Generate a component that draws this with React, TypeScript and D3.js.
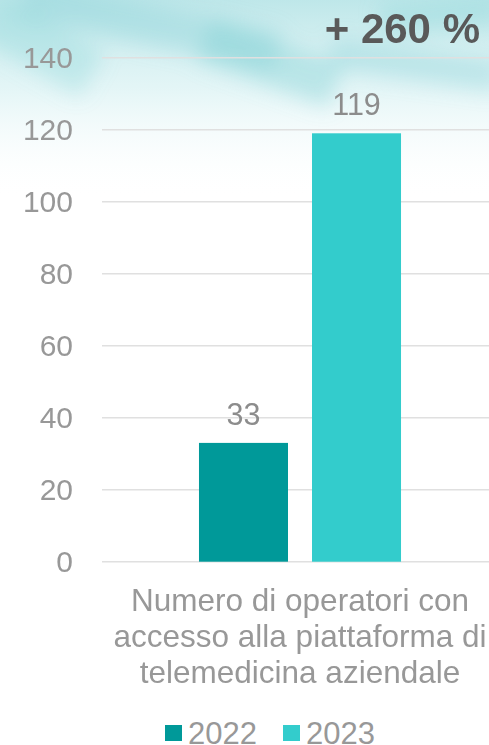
import React, { useEffect, useRef } from "react";
import * as d3 from "d3";

const categories = ["Numero di operatori con accesso alla piattaforma di telemedicina aziendale"];
const categoryLines = ["Numero di operatori con", "accesso alla piattaforma di", "telemedicina aziendale"];
const years = ["2022", "2023"];
const values2022 = [33];
const values2023 = [119];
const yTicks = [0, 20, 40, 60, 80, 100, 120, 140];
const growthLabel = "+ 260 %";
const colors = ["#009999", "#33CCCC"];

export default function App() {
  const ref = useRef<SVGSVGElement>(null);

  useEffect(() => {
    const width = 489;
    const height = 745;
    const svg = d3.select(ref.current);
    svg.selectAll("*").remove();
    svg.attr("width", width).attr("height", height);

    const font = "'Liberation Sans', Arial, sans-serif";
    const textGray = "#989898";

    // background wash on top
    const defs = svg.append("defs");
    const grad = defs
      .append("linearGradient")
      .attr("id", "wash")
      .attr("x1", 0)
      .attr("y1", 0)
      .attr("x2", 0)
      .attr("y2", 1);
    grad.append("stop").attr("offset", "0%").attr("stop-color", "#a9dfe2").attr("stop-opacity", 0.75);
    grad.append("stop").attr("offset", "45%").attr("stop-color", "#c9ecee").attr("stop-opacity", 0.5);
    grad.append("stop").attr("offset", "100%").attr("stop-color", "#ffffff").attr("stop-opacity", 0);
    const blur = defs.append("filter").attr("id", "blur").attr("x", "-50%").attr("y", "-50%").attr("width", "200%").attr("height", "200%");
    blur.append("feGaussianBlur").attr("stdDeviation", 10);

    svg.append("rect").attr("width", width).attr("height", height).attr("fill", "#ffffff");
    svg.append("rect").attr("width", width).attr("height", 200).attr("fill", "url(#wash)");
    const strokes = [
      { x: 20, y: 5, w: 260, h: 40, r: 12, o: 0.35 },
      { x: 200, y: 40, w: 140, h: 45, r: 20, o: 0.4 },
      { x: 330, y: 50, w: 170, h: 30, r: 8, o: 0.35 },
      { x: -20, y: 20, w: 120, h: 50, r: 30, o: 0.3 },
      { x: 380, y: 0, w: 120, h: 30, r: -5, o: 0.3 },
    ];
    svg
      .append("g")
      .attr("filter", "url(#blur)")
      .selectAll("rect")
      .data(strokes)
      .join("rect")
      .attr("x", (d) => d.x)
      .attr("y", (d) => d.y)
      .attr("width", (d) => d.w)
      .attr("height", (d) => d.h)
      .attr("transform", (d) => `rotate(${d.r}, ${d.x + d.w / 2}, ${d.y + d.h / 2})`)
      .attr("fill", "#7fcfd4")
      .attr("opacity", (d) => d.o);

    const y = d3.scaleLinear().domain([0, 140]).range([561.7, 57.7]);
    const x0 = d3.scaleBand().domain(categories).range([102, 498]);
    const x1 = d3
      .scaleBand()
      .domain(years)
      .range([0, x0.bandwidth()])
      .paddingInner(0.2124)
      .paddingOuter(0.858);

    // grid
    svg
      .append("g")
      .selectAll("line")
      .data(yTicks)
      .join("line")
      .attr("x1", 102)
      .attr("x2", width)
      .attr("y1", (d) => y(d))
      .attr("y2", (d) => y(d))
      .attr("stroke", "#e0e0e0")
      .attr("stroke-width", 1.5);

    // y tick labels
    svg
      .append("g")
      .selectAll("text")
      .data(yTicks)
      .join("text")
      .attr("x", 73)
      .attr("y", (d) => y(d) + 10.5)
      .attr("text-anchor", "end")
      .attr("font-family", font)
      .attr("font-size", 30)
      .attr("fill", textGray)
      .text((d) => d);

    const rows = years.map((yr, i) => ({
      year: yr,
      value: (i === 0 ? values2022 : values2023)[0],
      color: colors[i],
    }));

    const g = svg.append("g").attr("transform", `translate(${x0(categories[0])}, 0)`);
    g.selectAll("rect")
      .data(rows)
      .join("rect")
      .attr("x", (d) => x1(d.year)!)
      .attr("y", (d) => y(d.value))
      .attr("width", x1.bandwidth())
      .attr("height", (d) => y(0) - y(d.value))
      .attr("fill", (d) => d.color);

    g.selectAll("text")
      .data(rows)
      .join("text")
      .attr("x", (d) => x1(d.year)! + x1.bandwidth() / 2)
      .attr("y", (d) => y(d.value) - 18)
      .attr("text-anchor", "middle")
      .attr("font-family", font)
      .attr("font-size", 30.5)
      .attr("fill", "#8c8c8c")
      .text((d) => d.value);

    // category label
    svg
      .append("text")
      .attr("text-anchor", "middle")
      .attr("font-family", font)
      .attr("font-size", 31.5)
      .attr("fill", textGray)
      .selectAll("tspan")
      .data(categoryLines)
      .join("tspan")
      .attr("x", 300)
      .attr("y", (_, i) => 611 + i * 36)
      .text((d) => d);

    // growth label
    svg
      .append("text")
      .attr("x", 480)
      .attr("y", 43)
      .attr("text-anchor", "end")
      .attr("font-family", font)
      .attr("font-weight", "bold")
      .attr("font-size", 42)
      .attr("fill", "#595959")
      .text(growthLabel);

    // legend
    const legendX = [165, 283];
    const lg = svg
      .append("g")
      .selectAll("g")
      .data(rows)
      .join("g")
      .attr("transform", (_, i) => `translate(${legendX[i]}, 725)`);
    lg.append("rect").attr("width", 17).attr("height", 16).attr("fill", (d) => d.color);
    lg.append("text")
      .attr("x", 23)
      .attr("y", 19)
      .attr("font-family", font)
      .attr("font-size", 31)
      .attr("fill", textGray)
      .text((d) => d.year);
  }, []);

  return <svg ref={ref} style={{ position: "absolute", left: 0, top: 0, display: "block" }} />;
}
